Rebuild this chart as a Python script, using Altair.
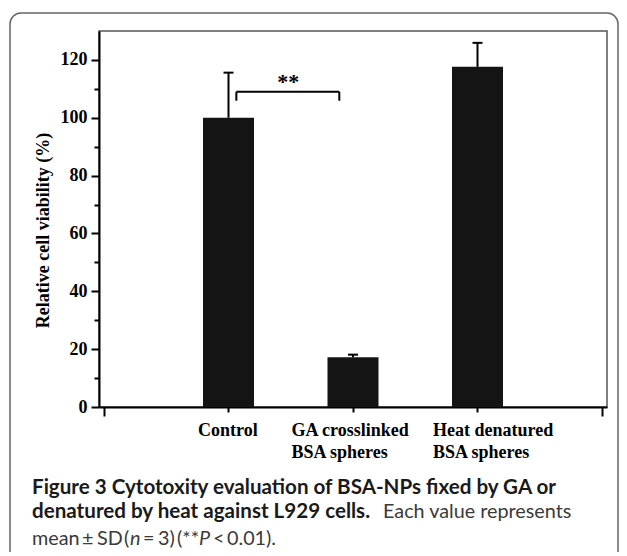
import json
import altair as alt
import pandas as pd

# ---------------- data ----------------
categories = ["Control", "GA crosslinked BSA spheres", "Heat denatured BSA spheres"]
category_lines = [["Control"], ["GA crosslinked", "BSA spheres"], ["Heat denatured", "BSA spheres"]]
positions = [1, 2, 3]
viability = [100.0, 17.2, 117.6]
sd = [15.6, 0.9, 8.3]

y_ticks = list(range(0, 130, 10))
x_ticks = [0, 1, 2, 3, 4]

bracket_x = [1.063, 1.89]
bracket_y = [105.9, 109.0]
sig_label = "**"
sig_x = [1.48]
sig_y = [110.0]

y_title = "Relative cell viability (%)"

caption_line1 = "Figure 3 Cytotoxity evaluation of BSA-NPs fixed by GA or"
caption_line2_bold = "denatured by heat against L929 cells."
caption_line2_regular = "Each value represents"
caption_line3 = ["mean", "±", "SD", "(", "n", "=", "3)", "(**", "P", "<", "0.01)."]
caption_line3_style = ["normal", "normal", "normal", "normal", "italic", "normal",
                       "normal", "normal", "italic", "normal", "normal"]

# ---------------- layout ----------------
W, H = 508, 376
SERIF = "Liberation Serif"
SANS = "Lato"

df = pd.DataFrame({"category": categories, "pos": positions, "value": viability, "sd": sd})
df["top"] = df["value"] + df["sd"]

x_scale = alt.Scale(domain=[0, 4], nice=False, zero=False)
y_scale = alt.Scale(domain=[0, 130], nice=False, zero=True)

label_expr = ("datum.value >= 1 && datum.value <= 3 ? "
              + json.dumps(category_lines) + "[datum.value - 1] : ''")

x_axis = alt.Axis(
    values=x_ticks, labelExpr=label_expr, title=None, grid=False,
    labelFont=SERIF, labelFontSize=18, labelFontWeight="bold", labelColor="black",
    labelPadding=9, labelLineHeight=22, labelAngle=0, labelAlign="left",
    labelOffset={"condition": [
        {"test": "datum.value === 1", "value": -31},
        {"test": "datum.value === 2", "value": -62},
        {"test": "datum.value === 3", "value": -45},
    ], "value": 0},
    tickSize={"condition": {"test": "datum.value % 4 === 0", "value": 9}, "value": 5},
    tickWidth=2, tickColor="black", domainWidth=2, domainColor="black",
)
y_axis = alt.Axis(
    values=y_ticks, labelExpr="datum.value % 20 === 0 ? datum.label : ''",
    title=y_title, grid=False,
    labelFont=SERIF, labelFontSize=18, labelFontWeight="bold", labelColor="black",
    labelPadding=4,
    tickSize={"condition": {"test": "datum.value % 20 === 0", "value": 8}, "value": 5},
    tickWidth=2, tickColor="black", domainWidth=2, domainColor="black",
    titleFont=SERIF, titleFontSize=18, titleFontWeight="bold", titleColor="black",
    titlePadding=8, titleY=199,
)


def X(field):
    return alt.X(field, scale=x_scale, axis=x_axis)


def Y(field):
    return alt.Y(field, scale=y_scale, axis=y_axis)


one = alt.Data(values=[{"k": 1}])

box = alt.Chart(one).mark_rect(
    fillOpacity=0, stroke="#666666", strokeWidth=1.5, cornerRadius=11
).encode(x=alt.value(-89), x2=alt.value(W + 11), y=alt.value(-18), y2=alt.value(H + 300))

bars = alt.Chart(df).mark_bar(size=51, color="#141414").encode(
    x=X("pos:Q"), y=Y("value:Q"),
)

err = alt.Chart(df).mark_rule(color="black", strokeWidth=2).encode(
    x=X("pos:Q"), y=Y("value:Q"), y2="top:Q",
)
caps = alt.Chart(df).mark_rule(color="black", strokeWidth=2, xOffset=-5, x2Offset=5).encode(
    x=X("pos:Q"), x2="pos:Q", y=Y("top:Q"),
)

br_h = alt.Chart(pd.DataFrame({"x1": [bracket_x[0]], "x2": [bracket_x[1]], "y": [bracket_y[1]]})).mark_rule(
    color="black", strokeWidth=2
).encode(x=X("x1:Q"), x2="x2:Q", y=Y("y:Q"))
br_v = alt.Chart(pd.DataFrame({"x": bracket_x, "y1": [bracket_y[0]] * 2, "y2": [bracket_y[1]] * 2})).mark_rule(
    color="black", strokeWidth=2
).encode(x=X("x:Q"), y=Y("y1:Q"), y2="y2:Q")
sig = alt.Chart(pd.DataFrame({"x": sig_x, "y": sig_y, "t": [sig_label]})).mark_text(
    font=SERIF, fontSize=22, fontWeight="bold", color="black", baseline="alphabetic", align="center"
).encode(x=X("x:Q"), y=Y("y:Q"), text="t:N")


def cap_text(text, x, y, weight="normal", style="normal", color="#3a3a3a", size=19.8):
    return alt.Chart(alt.Data(values=[{"t": text}])).mark_text(
        align="left", baseline="alphabetic", font=SANS, fontSize=size,
        fontWeight=weight, fontStyle=style, color=color,
    ).encode(x=alt.value(x), y=alt.value(y), text="t:N")


cx0 = -67
line_y = [463, 487, 514]
captions = [
    cap_text(caption_line1, cx0, line_y[0], "bold", color="#1a1a1a", size=20.6),
    cap_text(caption_line2_bold, cx0, line_y[1], "bold", color="#1a1a1a", size=20.6),
    cap_text(caption_line2_regular, 284, line_y[1]),
]
line3_x = [-67, -17, -2, 25, 31, 44, 59, 78, 100, 114, 128]
for t, st, xx in zip(caption_line3, caption_line3_style, line3_x):
    captions.append(cap_text(t, xx, line_y[2], style=st))

chart = alt.layer(box, bars, err, caps, br_h, br_v, sig, *captions).properties(
    width=W, height=H,
    autosize=alt.AutoSizeParams(type="none"),
    padding={"left": 91, "top": 23, "right": 12, "bottom": 145},
    background="white",
).configure_view(stroke="#555555", strokeWidth=1.5)

chart.save("out.html", embed_options={"renderer": "svg", "actions": False})
